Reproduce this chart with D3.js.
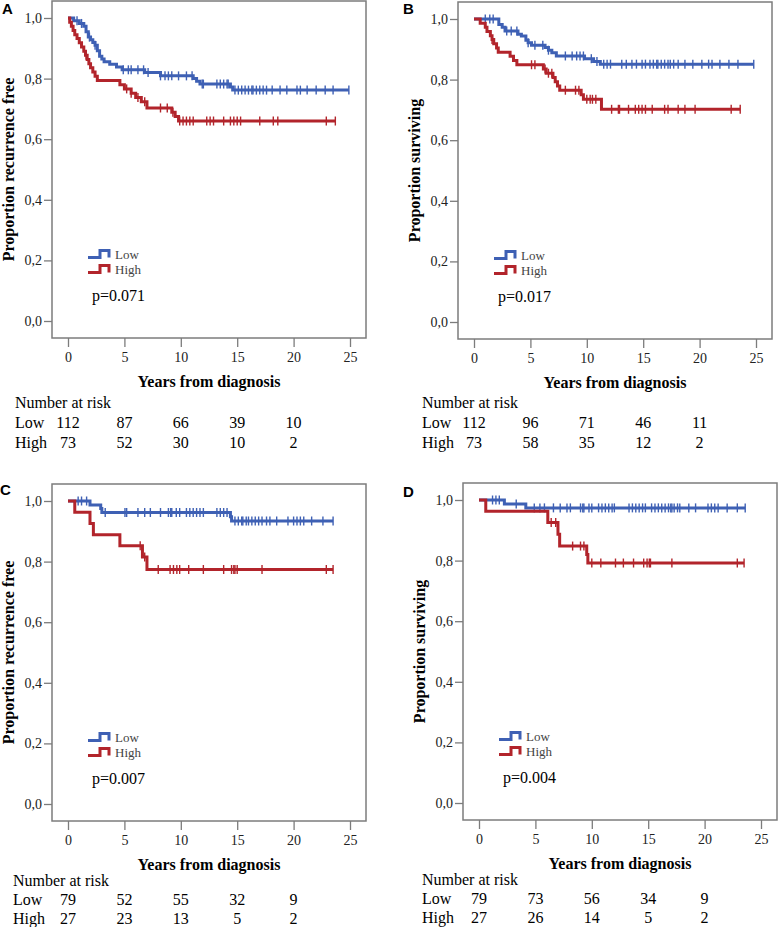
<!DOCTYPE html>
<html>
<head>
<meta charset="utf-8">
<script src="https://cdn.jsdelivr.net/npm/d3@7"></script>
<style>
  body { margin: 0; background: #fff; }
  svg { display: block; }
</style>
</head>
<body>
<div id="chart"></div>
<script>
// =====================================
// DATA
// =====================================

const xTicks = [0, 5, 10, 15, 20, 25];
const yTicks = [0, 0.2, 0.4, 0.6, 0.8, 1.0];
const riskTimes = [0, 5, 10, 15, 20];
const groups = ["Low", "High"];
const pValues = ["p=0.071", "p=0.017", "p=0.007", "p=0.004"];
const yTitles = [
  "Proportion recurrence free",
  "Proportion surviving",
  "Proportion recurrence free",
  "Proportion surviving"
];

// A : [time, proportion] after each drop
const aLowSteps = [[0, 1], [0.5, 0.991], [1.0, 0.982], [1.4, 0.973], [1.6, 0.955], [1.8, 0.937], [2.0, 0.928], [2.2, 0.919], [2.4, 0.91], [2.6, 0.892], [2.8, 0.874], [3.0, 0.865], [3.2, 0.856], [3.7, 0.847], [4.3, 0.838], [4.8, 0.829], [6.8, 0.82], [8.2, 0.809], [11.1, 0.8], [11.4, 0.791], [11.7, 0.782], [14.4, 0.772], [14.6, 0.762]];
const aLowCensor = [0.8, 1.2, 1.9, 2.4, 4.9, 5.35, 5.6, 6.2, 6.7, 7.1, 8.2, 8.6, 8.9, 9.2, 9.8, 10.5, 11.0, 11.9, 12.0, 13.2, 13.5, 13.8, 14.1, 14.2, 14.8, 15.1, 15.4, 15.7, 16.0, 16.3, 16.4, 16.7, 17.0, 17.3, 17.6, 18.1, 18.8, 19.4, 20.3, 20.6, 21.2, 22.0, 22.8, 23.5, 24.9];
const aHighSteps = [[0, 1], [0.15, 0.986], [0.3, 0.973], [0.45, 0.959], [0.6, 0.945], [0.8, 0.932], [1.0, 0.918], [1.2, 0.904], [1.4, 0.89], [1.55, 0.877], [1.7, 0.863], [1.85, 0.849], [2.0, 0.836], [2.2, 0.822], [2.4, 0.808], [2.6, 0.794], [4.6, 0.78], [5.0, 0.766], [5.6, 0.752], [6.0, 0.738], [6.5, 0.724], [7.0, 0.703], [9.2, 0.689], [9.5, 0.675], [9.8, 0.66]];
const aHighCensor = [1.6, 5.2, 5.6, 6.2, 6.8, 8.2, 8.8, 9.3, 9.9, 10.2, 10.5, 10.8, 11.1, 12.3, 12.6, 12.9, 13.8, 14.4, 14.7, 15.0, 15.3, 17.0, 18.2, 18.6, 22.9, 23.7];
const aLowRisk = [112, 87, 66, 39, 10];
const aHighRisk = [73, 52, 30, 10, 2];

// B
const bLowSteps = [[0, 1], [2.2, 0.982], [2.5, 0.973], [2.75, 0.96], [3.9, 0.95], [4.2, 0.944], [4.6, 0.93], [4.8, 0.922], [5.1, 0.913], [6.3, 0.906], [6.6, 0.897], [6.9, 0.889], [7.3, 0.878], [9.8, 0.869], [10.6, 0.86], [11.2, 0.851]];
const bLowCensor = [1.0, 1.4, 1.7, 2.9, 3.3, 3.8, 4.8, 5.4, 6.1, 6.6, 8.1, 8.7, 9.1, 9.4, 9.7, 10.4, 10.9, 11.5, 11.8, 12.1, 13.1, 13.5, 14.0, 14.4, 14.9, 15.2, 15.6, 15.9, 16.2, 16.3, 16.6, 16.9, 17.2, 17.4, 17.7, 18.1, 18.7, 19.4, 20.2, 20.8, 21.1, 21.8, 22.6, 23.4, 24.8];
const bHighSteps = [[0, 1], [0.55, 0.986], [1.0, 0.973], [1.15, 0.959], [1.45, 0.945], [1.6, 0.932], [1.75, 0.918], [2.0, 0.904], [2.15, 0.89], [3.2, 0.877], [3.5, 0.863], [3.8, 0.849], [6.15, 0.835], [6.4, 0.821], [7.0, 0.807], [7.2, 0.793], [7.4, 0.779], [7.6, 0.765], [9.5, 0.75], [9.7, 0.735], [11.3, 0.702]];
const bHighCensor = [1.6, 5.1, 5.4, 6.3, 6.6, 6.9, 8.1, 9.0, 9.3, 10.0, 10.3, 10.5, 10.8, 12.2, 12.8, 12.9, 13.7, 14.3, 14.6, 14.9, 15.2, 15.8, 16.9, 17.2, 18.1, 18.7, 19.6, 22.8, 23.6];
const bLowRisk = [112, 96, 71, 46, 11];
const bHighRisk = [73, 58, 35, 12, 2];

// C
const cLowSteps = [[0, 1], [1.95, 0.987], [2.9, 0.975], [3.0, 0.962], [14.4, 0.948], [14.5, 0.934]];
const cLowCensor = [0.9, 1.2, 1.65, 3.3, 5.05, 5.2, 6.2, 6.8, 7.3, 8.2, 8.9, 9.1, 9.2, 9.6, 9.9, 10.5, 10.8, 11.1, 11.4, 11.7, 12.0, 13.2, 13.5, 13.8, 14.1, 14.8, 15.1, 15.4, 15.5, 15.8, 16.0, 16.3, 16.6, 16.9, 17.2, 17.6, 17.9, 18.5, 19.5, 20.0, 20.3, 20.6, 20.9, 21.6, 22.6, 23.5];
const cHighSteps = [[0, 1], [0.6, 0.963], [1.95, 0.926], [2.25, 0.889], [4.6, 0.852], [6.6, 0.815], [7.0, 0.774]];
const cHighCensor = [6.4, 6.8, 8.0, 9.05, 9.35, 9.65, 9.9, 10.7, 12.0, 13.8, 14.5, 14.7, 14.8, 15.0, 17.2, 22.9, 23.5];
const cLowRisk = [79, 52, 55, 32, 9];
const cHighRisk = [27, 23, 13, 5, 2];

// D
const dLowSteps = [[0, 1], [2.25, 0.987], [4.15, 0.974]];
const dLowCensor = [1.2, 1.5, 1.8, 3.3, 4.9, 5.4, 5.8, 6.6, 7.2, 7.8, 8.1, 9.0, 9.2, 9.3, 9.75, 10.0, 10.6, 10.9, 11.2, 11.5, 11.8, 12.0, 13.3, 13.6, 13.9, 14.2, 14.5, 14.75, 15.3, 15.6, 15.9, 16.2, 16.5, 16.8, 17.0, 17.1, 17.3, 17.6, 17.8, 18.6, 19.2, 20.3, 20.6, 20.9, 21.2, 22.0, 22.9, 23.6];
const dHighSteps = [[0, 1], [0.6, 0.963], [6.1, 0.926], [7.0, 0.887], [7.15, 0.848], [9.55, 0.82], [9.65, 0.792]];
const dHighCensor = [6.4, 6.8, 8.3, 9.0, 9.3, 10.0, 10.8, 12.1, 12.8, 13.7, 14.6, 14.9, 15.1, 15.2, 17.1, 22.9, 23.5];
const dLowRisk = [79, 73, 56, 34, 9];
const dHighRisk = [27, 26, 14, 5, 2];

// =====================================
// DIMENSIONS
// =====================================

const width = 778;
const height = 927;
const frameW = 314;
const frameH = 337;

const serif = "'Liberation Serif', 'Times New Roman', serif";
const sans = "'Liberation Sans', Arial, sans-serif";

const blue = "#3e60b4";
const red = "#b2242b";
const frameColor = "#7c7c7c";

// =====================================
// PANELS
// =====================================

const panels = [
  { letter: "A", left: 52, top: 1, letterX: 2, letterY: 8, riskX: -37, riskY: [401, 421, 441],
    series: [[aLowSteps, aLowCensor, aLowRisk], [aHighSteps, aHighCensor, aHighRisk]] },
  { letter: "B", left: 458, top: 2, letterX: 403, letterY: 8, riskX: -36, riskY: [400, 420, 440],
    series: [[bLowSteps, bLowCensor, bLowRisk], [bHighSteps, bHighCensor, bHighRisk]] },
  { letter: "C", left: 52, top: 484, letterX: 0, letterY: 489, riskX: -39, riskY: [396, 415, 434],
    series: [[cLowSteps, cLowCensor, cLowRisk], [cHighSteps, cHighCensor, cHighRisk]] },
  { letter: "D", left: 463, top: 483, letterX: 403, letterY: 491, riskX: -41, riskY: [396, 415, 434],
    series: [[dLowSteps, dLowCensor, dLowRisk], [dHighSteps, dHighCensor, dHighRisk]] }
];

// =====================================
// SVG
// =====================================

const svg = d3.select("#chart")
  .append("svg")
  .attr("width", width)
  .attr("height", height);

// =====================================
// SCALES
// =====================================

const x = d3.scaleLinear()
  .domain([0, 25])
  .range([16, 298]);

const y = d3.scaleLinear()
  .domain([0, 1])
  .range([320, 17]);

const line = d3.line()
  .x(d => x(d[0]))
  .y(d => y(d[1]))
  .curve(d3.curveStepAfter);

// proportion at time t from the step list
function survAt(steps, t) {
  let v = 1;
  steps.forEach(d => { if (d[0] <= t) v = d[1]; });
  return v;
}

const commaFormat = d => d3.format(".1f")(d).replace(".", ",");

// =====================================
// DRAW EACH PANEL
// =====================================

panels.forEach((p, pi) => {

  svg.append("text")
    .attr("x", p.letterX)
    .attr("y", p.letterY)
    .attr("dominant-baseline", "central")
    .style("font-family", sans)
    .style("font-size", "15px")
    .style("font-weight", "700")
    .text(p.letter);

  const g = svg.append("g")
    .attr("transform", `translate(${p.left},${p.top})`);

  // frame
  g.append("rect")
    .attr("width", frameW)
    .attr("height", frameH)
    .attr("fill", "none")
    .attr("stroke", frameColor)
    .attr("stroke-width", 1.5);

  // y axis
  const ya = g.append("g")
    .call(d3.axisLeft(y)
      .tickValues(yTicks)
      .tickSize(8)
      .tickPadding(2)
      .tickFormat(commaFormat));

  ya.select(".domain").remove();
  ya.selectAll("line").attr("stroke", frameColor).attr("stroke-width", 1.3);
  ya.selectAll("text")
    .style("font-family", serif)
    .style("font-size", "14px")
    .attr("fill", "#222");

  // x axis
  const xa = g.append("g")
    .attr("transform", `translate(0,${frameH})`)
    .call(d3.axisBottom(x)
      .tickValues(xTicks)
      .tickSize(9)
      .tickPadding(5));

  xa.select(".domain").remove();
  xa.selectAll("line").attr("stroke", frameColor).attr("stroke-width", 1.3);
  xa.selectAll("text")
    .style("font-family", serif)
    .style("font-size", "14px")
    .attr("fill", "#222");

  // axis titles
  g.append("text")
    .attr("transform", `translate(-44,${(y(0) + y(1)) / 2}) rotate(-90)`)
    .attr("text-anchor", "middle")
    .attr("dominant-baseline", "central")
    .style("font-family", serif)
    .style("font-size", "16px")
    .style("font-weight", "700")
    .text(yTitles[pi]);

  g.append("text")
    .attr("x", frameW / 2)
    .attr("y", 380)
    .attr("text-anchor", "middle")
    .attr("dominant-baseline", "central")
    .style("font-family", serif)
    .style("font-size", "16px")
    .style("font-weight", "700")
    .text("Years from diagnosis");

  // curves and censor ticks (Low first, High on top)
  p.series.forEach((s, si) => {

    const steps = s[0];
    const censor = s[1];
    const col = si === 0 ? blue : red;
    const pts = steps.concat([[d3.max(censor), steps[steps.length - 1][1]]]);

    g.append("path")
      .datum(pts)
      .attr("d", line)
      .attr("fill", "none")
      .attr("stroke", col)
      .attr("stroke-width", 3);

    g.selectAll(null)
      .data(censor)
      .enter()
      .append("line")
      .attr("x1", d => x(d))
      .attr("x2", d => x(d))
      .attr("y1", d => y(survAt(steps, d)) - 4.5)
      .attr("y2", d => y(survAt(steps, d)) + 4.5)
      .attr("stroke", col)
      .attr("stroke-width", 1.4);

    // legend
    const ly = 253 + si * 15;
    g.append("path")
      .attr("d", `M36,${ly + 3.5}H48V${ly - 3.5}H57V${ly + 3.5}`)
      .attr("fill", "none")
      .attr("stroke", col)
      .attr("stroke-width", 3);

    g.append("text")
      .attr("x", 63)
      .attr("y", ly)
      .attr("dominant-baseline", "central")
      .style("font-family", serif)
      .style("font-size", "13px")
      .attr("fill", "#444")
      .text(groups[si]);

    // number at risk rows
    g.append("text")
      .attr("x", p.riskX)
      .attr("y", p.riskY[si + 1])
      .attr("dominant-baseline", "central")
      .style("font-family", serif)
      .style("font-size", "16px")
      .text(groups[si]);

    g.selectAll(null)
      .data(s[2])
      .enter()
      .append("text")
      .attr("x", (d, i) => x(riskTimes[i]))
      .attr("y", p.riskY[si + 1])
      .attr("text-anchor", "middle")
      .attr("dominant-baseline", "central")
      .style("font-family", serif)
      .style("font-size", "16px")
      .text(d => d);

  });

  g.append("text")
    .attr("x", 40)
    .attr("y", 294)
    .attr("dominant-baseline", "central")
    .style("font-family", serif)
    .style("font-size", "16px")
    .text(pValues[pi]);

  g.append("text")
    .attr("x", p.riskX)
    .attr("y", p.riskY[0])
    .attr("dominant-baseline", "central")
    .style("font-family", serif)
    .style("font-size", "16px")
    .text("Number at risk");

});
</script>
</body>
</html>
